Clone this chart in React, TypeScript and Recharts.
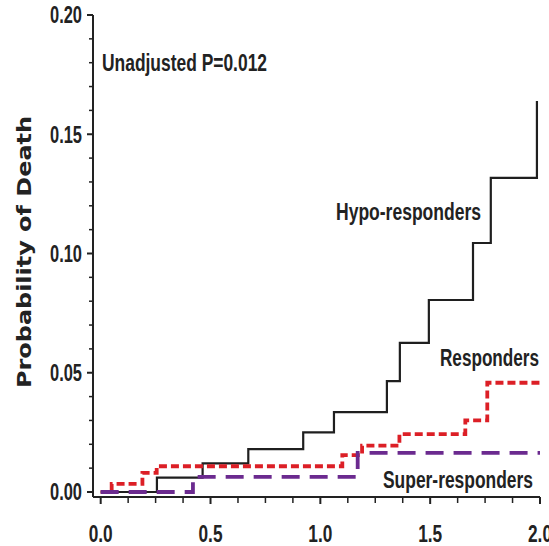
import { LineChart, Line, XAxis, YAxis } from 'recharts'

// cumulative probability of death
const hypoTimes = [0, 0.256, 0.464, 0.672, 0.922, 1.062, 1.303, 1.362, 1.494, 1.695, 1.776, 1.986]
const hypoProb = [0, 0.006, 0.012, 0.018, 0.025, 0.0335, 0.0465, 0.0625, 0.0805, 0.1044, 0.1317, 0.1639]

const respTimes = [0, 0.05, 0.19, 0.255, 1.1, 1.19, 1.36, 1.66, 1.76, 2.0]
const respProb = [0, 0.0034, 0.008, 0.0108, 0.0155, 0.0194, 0.0243, 0.03, 0.0458, 0.0458]

const superTimes = [0, 0.42, 1.17, 2.0]
const superProb = [0, 0.0063, 0.0164, 0.0164]

const xTicks = [0, 0.125, 0.25, 0.375, 0.5, 0.625, 0.75, 0.875, 1, 1.125, 1.25, 1.375, 1.5, 1.625, 1.75, 1.875, 2]
const xLabels = ['0.0', '0.5', '1.0', '1.5', '2.0']
const yTicks = [0, 0.01, 0.02, 0.03, 0.04, 0.05, 0.06, 0.07, 0.08, 0.09, 0.1, 0.11, 0.12, 0.13, 0.14, 0.15, 0.16, 0.17, 0.18, 0.19, 0.2]
const yLabels = ['0.00', '0.05', '0.10', '0.15', '0.20']

const toRows = (times: number[], probs: number[]) => times.map((t, i) => ({ t, p: probs[i] }))
const hypoData = toRows(hypoTimes, hypoProb)
const respData = toRows(respTimes, respProb)
const superData = toRows(superTimes, superProb)

const INK = '#222'
const LABEL_FONT = "'Liberation Sans', Arial, sans-serif"

const YTick = (props: any) => {
  const { x, y, index } = props
  const major = index % 5 === 0
  return (
    <g>
      <line x1={x} x2={x - (major ? 6 : 4)} y1={y} y2={y} stroke={INK} strokeWidth={major ? 2 : 1.5} />
      {major && (
        <text
          x={x - 11}
          y={y}
          dy="0.36em"
          textAnchor="end"
          fontFamily={LABEL_FONT}
          fontWeight="bold"
          fontSize={23}
          fill={INK}
          textLength={32}
          lengthAdjust="spacingAndGlyphs"
        >
          {yLabels[index / 5]}
        </text>
      )}
    </g>
  )
}

const XTick = (props: any) => {
  const { x, y, index } = props
  const major = index % 4 === 0
  return (
    <g>
      <line x1={x} x2={x} y1={y} y2={y + (major ? 7 : 6)} stroke={INK} strokeWidth={major ? 2 : 1.5} />
      {major && (
        <text
          x={x}
          y={y + 45}
          textAnchor="middle"
          fontFamily={LABEL_FONT}
          fontWeight="bold"
          fontSize={23}
          fill={INK}
          textLength={24}
          lengthAdjust="spacingAndGlyphs"
        >
          {xLabels[index / 4]}
        </text>
      )}
    </g>
  )
}

const annot = {
  fontFamily: LABEL_FONT,
  fontWeight: 'bold' as const,
  fontSize: 23,
  fill: INK,
  lengthAdjust: 'spacingAndGlyphs' as const,
}

export default function App() {
  return (
    <div style={{ position: 'absolute', left: 0, top: 0, background: '#fff' }}>
      <LineChart width={549} height={546} margin={{ top: 15, right: 9, left: 0, bottom: 0 }}>
        <XAxis
          dataKey="t"
          type="number"
          domain={[-0.035, 2]}
          allowDataOverflow
          ticks={xTicks}
          interval={0}
          tick={<XTick />}
          tickLine={false}
          tickSize={0}
          tickMargin={0}
          height={49}
          axisLine={{ stroke: INK, strokeWidth: 2 }}
        />
        <YAxis
          type="number"
          domain={[-0.0021, 0.2]}
          allowDataOverflow
          ticks={yTicks}
          interval={0}
          tick={<YTick />}
          tickLine={false}
          tickSize={0}
          tickMargin={0}
          width={93}
          axisLine={{ stroke: INK, strokeWidth: 2 }}
        />
        <Line
          data={hypoData}
          dataKey="p"
          type="stepAfter"
          stroke="#1f1f1f"
          strokeWidth={2.2}
          dot={false}
          isAnimationActive={false}
        />
        <Line
          data={respData}
          dataKey="p"
          type="stepAfter"
          stroke="#dc1f26"
          strokeWidth={3.8}
          strokeDasharray="8 4"
          dot={false}
          isAnimationActive={false}
        />
        <Line
          data={superData}
          dataKey="p"
          type="stepAfter"
          stroke="#6b2a8f"
          strokeWidth={3.8}
          strokeDasharray="18 10"
          dot={false}
          isAnimationActive={false}
        />
        <text x={102} y={71} {...annot} textLength={165}>Unadjusted P=0.012</text>
        <text x={336} y={220} {...annot} textLength={145}>Hypo-responders</text>
        <text x={440} y={366} {...annot} textLength={99}>Responders</text>
        <text x={383} y={488} {...annot} textLength={150}>Super-responders</text>
        <text
          x={24}
          y={252}
          transform="rotate(-90, 24, 252)"
          textAnchor="middle"
          dominantBaseline="central"
          fontFamily="'DejaVu Sans', Verdana, sans-serif"
          fontWeight="bold"
          fontSize={20}
          fill={INK}
          textLength={272}
          lengthAdjust="spacingAndGlyphs"
        >
          Probability of Death
        </text>
      </LineChart>
    </div>
  )
}
